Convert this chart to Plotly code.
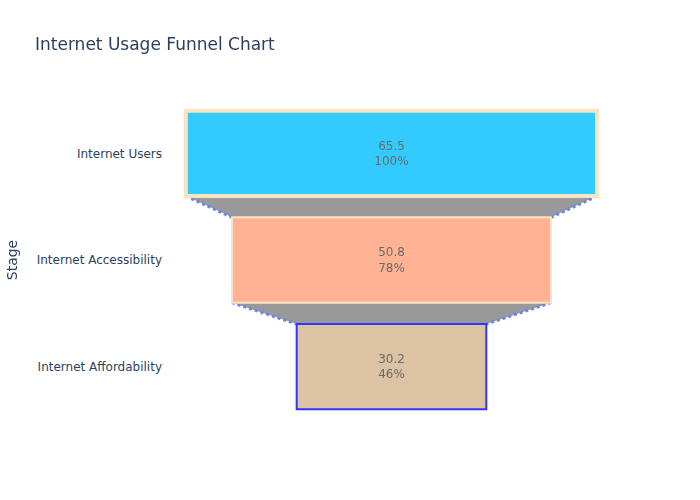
import plotly.graph_objects as go

stages = ["Internet Users", "Internet Accessibility", "Internet Affordability"]
values = [65.5, 50.8, 30.2]
colors = ["deepskyblue", "lightsalmon", "tan"]
line_colors = ["wheat", "wheat", "blue"]
line_widths = [4, 2, 2]

fig = go.Figure(go.Funnel(
    y=stages,
    x=values,
    textposition="inside",
    textinfo="value+percent initial",
    opacity=0.8,
    marker=dict(color=colors, line=dict(width=line_widths, color=line_colors)),
    connector=dict(line=dict(color="royalblue", dash="dot", width=3), fillcolor="gray"),
))

fig.update_layout(
    title="Internet Usage Funnel Chart",
    yaxis_title="Stage",
    template="plotly_white",
    font=dict(family="DejaVu Sans"),
    width=700,
    height=500,
)

fig.write_html("out.html", config={"displayModeBar": False},
               post_script="document.body.style.margin='0';")
